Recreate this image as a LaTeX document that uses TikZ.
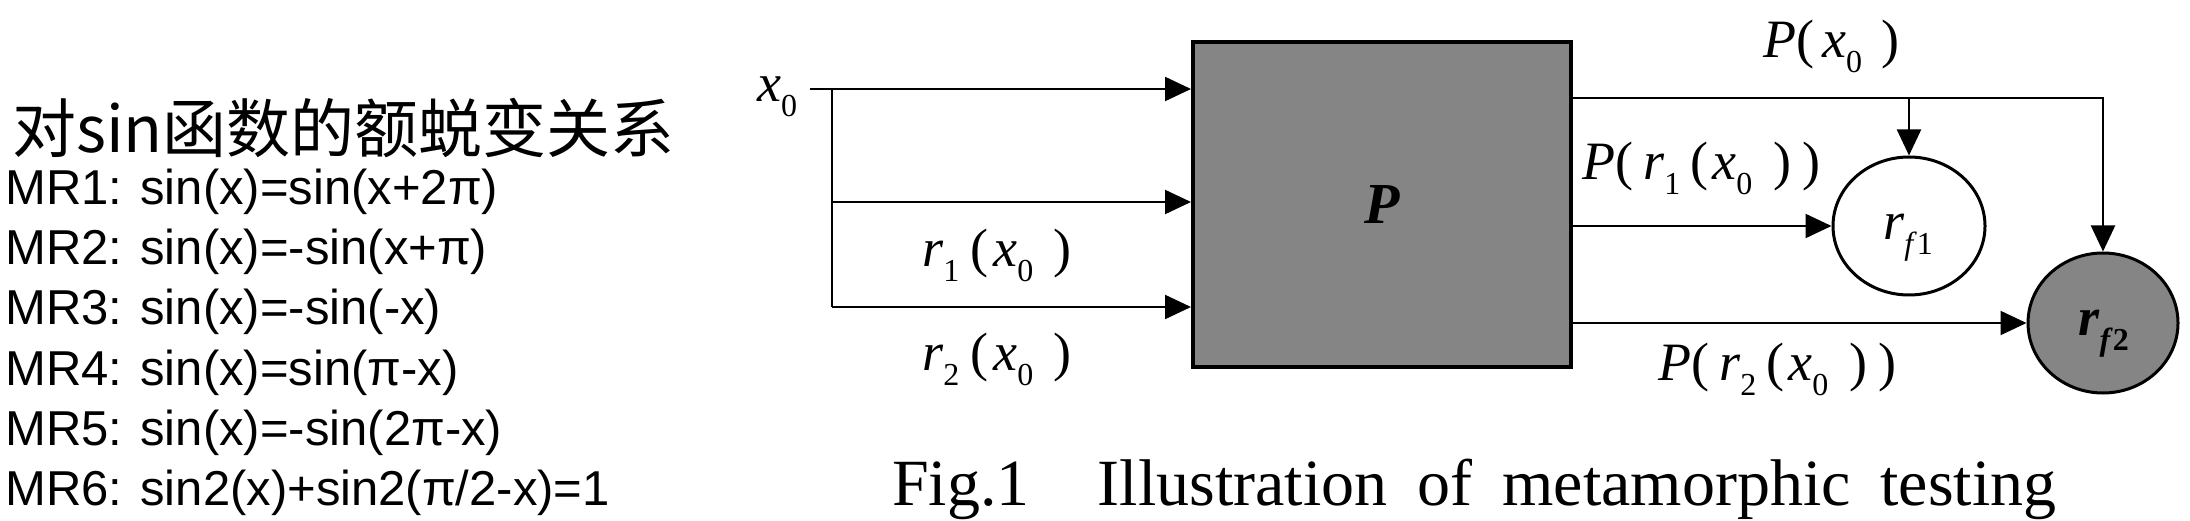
\documentclass[tikz,border=0pt]{standalone}
\usepackage{fontspec}
\setmainfont{Liberation Serif}
\newfontfamily\cjkfont{Noto Sans CJK SC}
\newfontfamily\arialfont{Liberation Sans}
\usetikzlibrary{arrows.meta,shapes.geometric}
\newcommand\sbx[1]{\raisebox{-15pt}{\fontsize{32}{32}\selectfont #1}}
\begin{document}
\begin{tikzpicture}[x=1pt,y=-1pt,
  lbl/.style={anchor=base west,inner sep=0pt,font=\fontsize{54}{60}\selectfont},
  mrline/.style={anchor=base west,inner sep=0pt,font=\arialfont\fontsize{49}{55}\selectfont},
  conn/.style={line width=2.2pt},
  arr/.style={conn,-{Triangle[length=26pt,width=24pt]}},
  halftone/.style={fill=black!48}
]
\useasboundingbox (0,0) rectangle (2190,521);

% left text
\node[anchor=base west,inner sep=0pt,font=\cjkfont\fontsize{64}{70}\selectfont] (head) at (12,153) {对sin函数的额蜕变关系};
\node[mrline] (mr1) at (5,205) {MR1: sin(x)=sin(x+2π)};
\node[mrline] (mr2) at (5,265) {MR2: sin(x)=-sin(x+π)};
\node[mrline] (mr3) at (5,325) {MR3: sin(x)=-sin(-x)};
\node[mrline] (mr4) at (5,385) {MR4: sin(x)=sin(π-x)};
\node[mrline] (mr5) at (5,445) {MR5: sin(x)=-sin(2π-x)};
\node[mrline] (mr6) at (5,505) {MR6: sin2(x)+sin2(π/2-x)=1};

% program box
\node[draw,line width=4pt,halftone,minimum width=378pt,minimum height=325pt,inner sep=0pt,
      font=\fontsize{58}{60}\selectfont\bfseries\itshape] (prog) at (1382,204.5) {P};

% output circles
\node[ellipse,draw,line width=3pt,fill=white,minimum width=152pt,minimum height=138pt,inner sep=0pt] (rf1) at (1909,226) {};
\node[ellipse,draw,line width=3pt,halftone,minimum width=150pt,minimum height=140pt,inner sep=0pt] (rf2) at (2103,323) {};

% coordinates for connector rows
\coordinate (s0) at (810,89);
\coordinate (v1) at (832,89);
\coordinate (v2) at (832,202);
\coordinate (v3) at (832,307);
\coordinate (y98) at (0,98);

% inputs
\draw[arr] (s0) -- (s0 -| prog.west);
\draw[conn] (v1) -- (v3);
\draw[arr] (v2) -- (v2 -| prog.west);
\draw[arr] (v3) -- (v3 -| prog.west);

% outputs
\draw[arr] (prog.east |- y98) -| (rf2.north);
\draw[arr] (rf1.north |- y98) -- (rf1.north);
\draw[arr] (prog.east |- rf1) -- (rf1.west);
\draw[arr] (prog.east |- rf2) -- (rf2.west);

% labels
\node[lbl] (lx0) at (757,102) {\textit{x}\sbx{0}};
\node[lbl] (lr1) at (922,267) {\textit{r}\sbx{1}\hspace{11pt}(\hspace{5pt}\textit{x}\sbx{0}\hspace{20pt})};
\node[lbl] (lr2) at (922,370) {\textit{r}\sbx{2}\hspace{11pt}(\hspace{5pt}\textit{x}\sbx{0}\hspace{20pt})};
\node[lbl] (lpx0) at (1763,58) {\textit{P}(\hspace{8pt}\textit{x}\sbx{0}\hspace{19pt})};
\node[lbl] (lpr1) at (1582,180) {\textit{P}(\hspace{10pt}\textit{r}\sbx{1}\hspace{10pt}(\hspace{4pt}\textit{x}\sbx{0}\hspace{21pt})\hspace{11pt})};
\node[lbl] (lpr2) at (1658,380) {\textit{P}(\hspace{10pt}\textit{r}\sbx{2}\hspace{10pt}(\hspace{4pt}\textit{x}\sbx{0}\hspace{21pt})\hspace{11pt})};
\node[lbl] (lrf1) at (1883,240) {\textit{r}\sbx{\textit{f}1}};
\node[lbl,font=\fontsize{54}{60}\selectfont\bfseries] (lrf2) at (2078,335) {\textit{r}\sbx{\textit{f}2}};

% caption
\node[anchor=base west,inner sep=0pt,font=\fontsize{66}{70}\selectfont] (cap) at (892,505)
  {Fig.1\hspace{68pt}Illustration\hspace{30pt}of\hspace{30pt}metamorphic\hspace{30pt}testing};
\end{tikzpicture}
\end{document}
